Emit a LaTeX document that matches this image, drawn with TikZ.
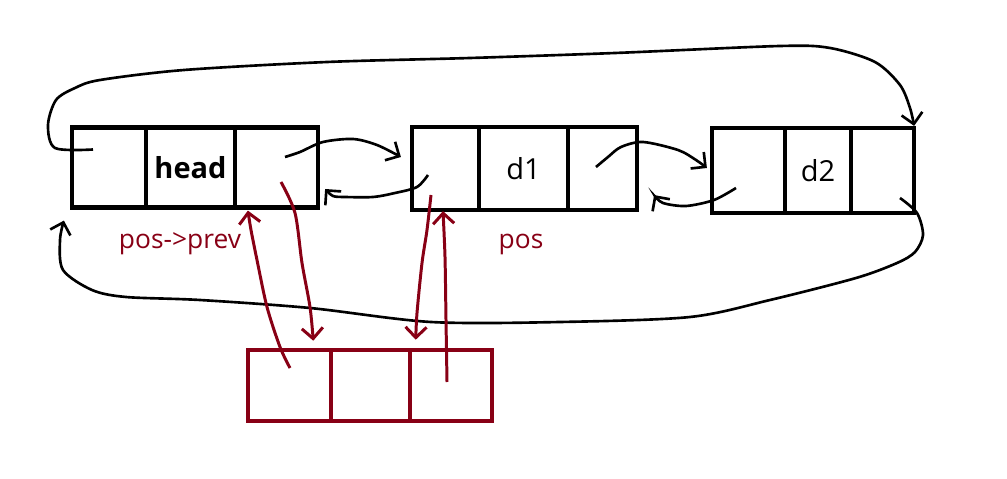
\documentclass[tikz,border=0pt]{standalone}
\usepackage{fontspec}
\setmainfont{Open Sans}
\usepackage{xcolor}
\usepackage{tikz}
\usetikzlibrary{arrows.meta,calc}
\definecolor{pencil}{RGB}{136,0,21}

\begin{document}
\begin{tikzpicture}[x=0.02cm, y=-0.02cm,
  cell/.style={draw, line width=2.4pt, inner sep=0pt, minimum height=#1},
  cell/.default=1.6cm,
  link/.style={line width=1.5pt, -{Straight Barb[length=6pt,width=12pt]}},
  poslink/.style={link, pencil, line width=1.7pt},
  txt/.style={font=\fontsize{16.5}{19}\selectfont},
  lbl/.style={pencil, font=\fontsize{15}{18}\selectfont}]
\useasboundingbox (0,0) rectangle (1007,479);
% list nodes
\node[cell, minimum width=1.48cm] (head-prev) at (109,167.5) {};
\node[cell, minimum width=1.78cm, txt] (head-data) at (190.5,167.5) {\raisebox{-2pt}{\textbf{head}}};
\node[cell, minimum width=1.66cm] (head-next) at (276.5,167.5) {};
\node[cell=1.66cm, minimum width=1.34cm] (d1-prev) at (445.5,168.5) {};
\node[cell=1.66cm, minimum width=1.78cm, txt] (d1-data) at (523.5,168.5) {d1};
\node[cell=1.66cm, minimum width=1.38cm] (d1-next) at (602.5,168.5) {};
\node[cell=1.7cm, minimum width=1.46cm] (d2-prev) at (748.5,170.5) {};
\node[cell=1.7cm, minimum width=1.32cm, txt] (d2-data) at (818,170.5) {\raisebox{-3pt}{d2}};
\node[cell=1.7cm, minimum width=1.26cm] (d2-next) at (882.5,170.5) {};
% new node
\node[cell=1.42cm, pencil, line width=2.6pt, minimum width=1.66cm] (new-prev) at (289.5,385.5) {};
\node[cell=1.42cm, pencil, line width=2.6pt, minimum width=1.58cm] (new-data) at (370.5,385.5) {};
\node[cell=1.42cm, pencil, line width=2.6pt, minimum width=1.64cm] (new-next) at (451,385.5) {};
\node[lbl] (lbl-prev) at (180,244) {pos->prev};
\node[lbl] (lbl-pos) at (521,244) {pos};
% end points
\coordinate (top-a) at ($(head-prev.center)+(-16,-18)$);
\coordinate (top-b) at ($(d2-next.north east)+(-2,0)$);
\coordinate (bot-a) at ($(d2-next.center)+(17.5,27.5)$);
\coordinate (bot-b) at ($(head-prev.south west)+(-6,11)$);
\coordinate (hn-a) at ($(head-next.center)+(8.5,-10.5)$);
\coordinate (hn-b) at ($(d1-prev.west)+(-9,-11.5)$);
\coordinate (dp-a) at ($(d1-prev.center)+(-17.5,6.5)$);
\coordinate (dp-b) at ($(head-next.east)+(5,21.5)$);
\coordinate (dn-a) at ($(d1-next.center)+(-6.5,-1.5)$);
\coordinate (dn-b) at ($(d2-prev.west)+(-3,-2.5)$);
\coordinate (ep-a) at ($(d2-prev.center)+(-12.5,17.5)$);
\coordinate (ep-b) at ($(d1-next.south east)+(15,-17)$);
\coordinate (r1-a) at ($(new-prev.center)+(0.5,-17.5)$);
\coordinate (r1-b) at ($(head-next.south west)+(15,1)$);
\coordinate (r2-a) at ($(head-next.center)+(4.5,14.5)$);
\coordinate (r2-b) at ($(new-prev.north east)+(-20,-7)$);
\coordinate (r3-a) at ($(d1-prev.center)+(-14.5,26.5)$);
\coordinate (r3-b) at ($(new-next.north west)+(8,-8)$);
\coordinate (r4-a) at ($(new-next.center)+(-4,-3.5)$);
\coordinate (r4-b) at ($(d1-prev.south)+(-2.5,-1)$);
% ring links
\draw[link] plot[smooth] coordinates {(top-a) (55,148) (48,125) (56,100) (75,88) (100,80) (184,70) (327,62) (470,58) (615,53) (780,46) (830,48) (875,62) (900,85) (910,108) (top-b)};
\draw[link] plot[smooth] coordinates {(bot-a) (917,213) (923,235) (915,252) (897,263) (856,278) (770,300) (690,317) (560,322) (431,322) (310,308) (200,300) (126,297) (92,290) (63,270) (60,240) (bot-b)};
\draw[link] plot[smooth] coordinates {(hn-a) (300,152) (323,142) (353,139) (377,145) (hn-b)};
\draw[link] plot[smooth] coordinates {(dp-a) (417,187) (395,193) (373,197) (345,197) (333,196) (dp-b)};
\draw[link] plot[smooth] coordinates {(dn-a) (608,157) (621,147) (643,142) (678,150) (696,160) (dn-b)};
\draw[link] plot[smooth] coordinates {(ep-a) (714,200) (686,206) (663,203) (ep-b)};
% links of the new node
\draw[poslink] plot[smooth] coordinates {(r1-a) (280,347) (267,307) (257,260) (251,230) (r1-b)};
\draw[poslink] plot[smooth] coordinates {(r2-a) (295,213) (302,263) (310,307) (r2-b)};
\draw[poslink] plot[smooth] coordinates {(r3-a) (427,230) (422,263) (417,313) (r3-b)};
\draw[poslink] plot[smooth] coordinates {(r4-a) (446,320) (445,257) (r4-b)};
\end{tikzpicture}
\end{document}
